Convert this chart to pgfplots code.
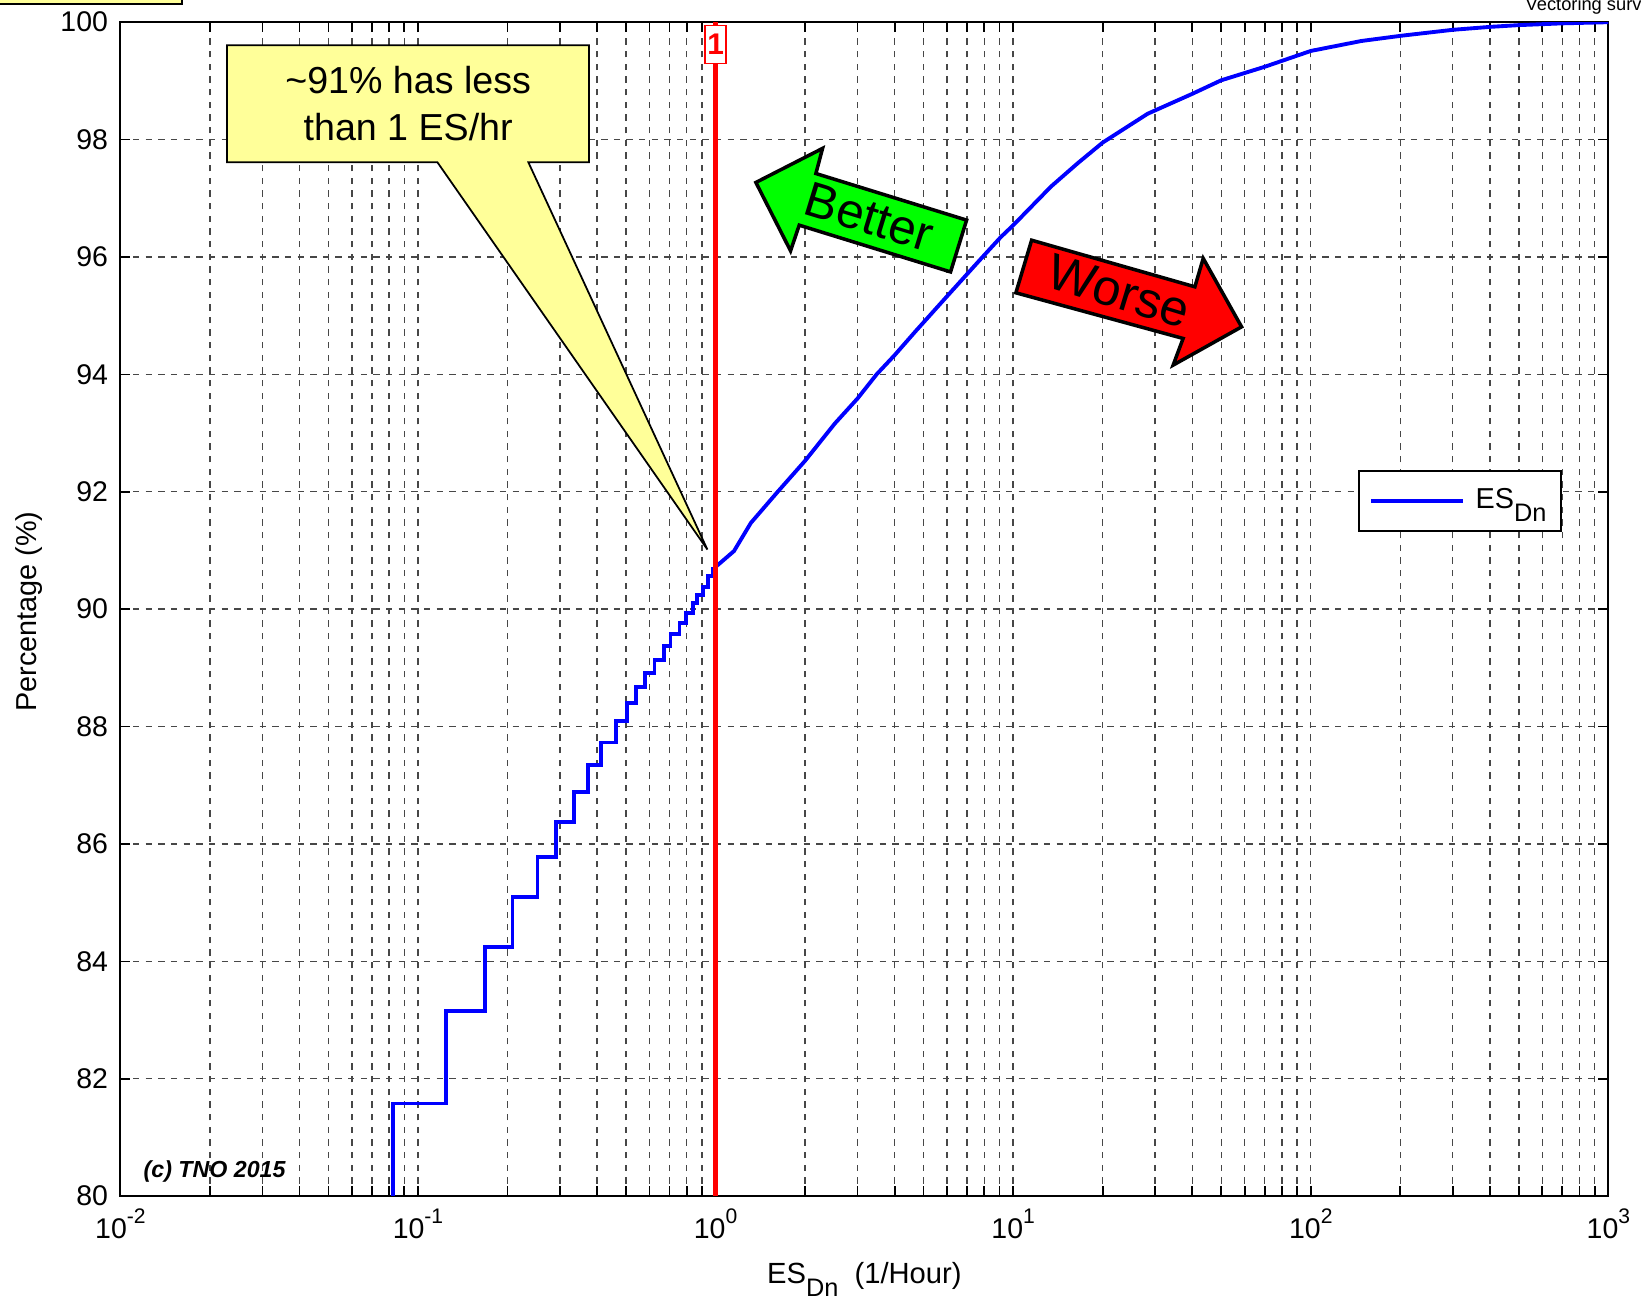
\documentclass[border=0pt]{standalone}
\usepackage{pgfplots}
\pgfplotsset{compat=1.18}
\usepackage{fontspec}
\setmainfont{Liberation Sans}
\definecolor{calloutyellow}{RGB}{255,255,153}
\newcommand\sub[1]{\raisebox{-0.45em}{\fontsize{7.2}{8}\selectfont #1}}
\newcommand\tp[1]{10\raisebox{0.55em}{\fontsize{6}{7}\selectfont #1}}
\begin{document}
\begin{tikzpicture}
\begin{axis}[
  scale only axis,
  width=148.8mm, height=117.4mm,
  xmode=log,
  xmin=0.01, xmax=1000,
  ymin=80, ymax=100,
  ytick={80,82,...,100},
  xtick={0.01,0.1,1,10,100,1000},
  xticklabels={\tp{-2},\tp{-1},\tp{0},\tp{1},\tp{2},\tp{3}},
  grid=both,
  major grid style={dash pattern=on 1.8pt off 1.8pt, black!72, line width=0.4pt},
  minor grid style={dash pattern=on 1.8pt off 1.8pt, black!72, line width=0.4pt},
  tick align=inside,
  major tick length=1mm, minor tick length=1mm,
  axis line style={line width=0.6pt},
  tick style={black, line width=0.5pt},
  ticklabel style={font=\fontsize{8.1}{10}\selectfont},
  /pgf/number format/assume math mode=true,
  xlabel={ES\sub{Dn}\ \ (1/Hour)},
  ylabel={Percentage (\%)},
  every axis x label/.style={at={(axis description cs:0.5,-0.0741)}, anchor=base, font=\fontsize{8.3}{10}\selectfont},
  every axis y label/.style={at={(axis description cs:-0.0612,0.498)}, anchor=center, rotate=90, font=\fontsize{8.2}{10}\selectfont},
  legend style={at={(0.969,0.6185)}, anchor=north east, draw=black, line width=0.5pt,
    font=\fontsize{8.2}{10}\selectfont, inner xsep=1.0mm, inner ysep=1.25mm,
    column sep=0.5mm, nodes={inner sep=0.5mm}},
  legend image code/.code={\draw[#1, line width=1.3pt] (0mm,0mm) -- (9.2mm,0mm);},
  legend cell align=left,
]
\addplot[blue, line width=1.1pt, const plot] coordinates {
(0.0824,80) (0.0824,81.58) (0.1245,83.15) (0.1677,84.24) (0.2078,85.10)
(0.2522,85.78) (0.2907,86.38) (0.3334,86.88) (0.3715,87.35) (0.412,87.73)
(0.463,88.09) (0.5028,88.40) (0.5407,88.68) (0.5797,88.91) (0.6232,89.14)
(0.670,89.37) (0.7056,89.57) (0.7563,89.77) (0.7965,89.94) (0.8389,90.10)
(0.8675,90.24) (0.906,90.38) (0.942,90.56) (0.98,90.68) (1.0,90.72)
};
\addlegendentry{ES\sub{Dn}}
\addplot[blue, line width=1.1pt, forget plot] coordinates {
(1.0,90.72) (1.153,90.99) (1.314,91.47) (1.617,92.0) (2.0,92.53) (2.513,93.16)
(3.0,93.59) (3.476,94.0) (4.0,94.33) (4.69,94.73) (5.92,95.30) (7.73,95.95)
(9.09,96.34) (10,96.54) (13.4,97.20) (16.5,97.60) (20,97.95) (28.3,98.44)
(40,98.78) (50,99.01) (70,99.24) (100,99.51) (148,99.68) (202,99.77)
(300,99.87) (400,99.92) (500,99.95) (700,99.98) (1000,100)
};
\addplot[red, line width=1.3pt, forget plot] coordinates {(1,80) (1,100)};
% callout
\draw[black, line width=0.5pt, fill=calloutyellow]
  (rel axis cs:0.0717,0.9804) -- (rel axis cs:0.3150,0.9804) -- (rel axis cs:0.3150,0.8806)
  -- (rel axis cs:0.2742,0.8806) -- (rel axis cs:0.3945,0.5508) -- (rel axis cs:0.2131,0.8806)
  -- (rel axis cs:0.0717,0.8806) -- cycle;
\node[align=center, font=\fontsize{10.7}{13.5}\selectfont] at (rel axis cs:0.1934,0.9305)
  {\textasciitilde 91\% has less\\than 1 ES/hr};
% better arrow
\draw[black, line width=1pt, fill=green, line join=miter]
  (rel axis cs:0.4271,0.8635) -- (rel axis cs:0.4719,0.8925) -- (rel axis cs:0.4674,0.8711)
  -- (rel axis cs:0.5687,0.8314) -- (rel axis cs:0.5579,0.7873) -- (rel axis cs:0.4562,0.8271)
  -- (rel axis cs:0.4504,0.8052) -- cycle;
\node[rotate=-17, font=\fontsize{14}{16}\selectfont] at (rel axis cs:0.5035,0.8343) {Better};
% worse arrow
\draw[black, line width=1pt, fill=red, line join=miter]
  (rel axis cs:0.6124,0.8143) -- (rel axis cs:0.7221,0.7746) -- (rel axis cs:0.7277,0.7988)
  -- (rel axis cs:0.7535,0.7405) -- (rel axis cs:0.7075,0.7079) -- (rel axis cs:0.7142,0.7306)
  -- (rel axis cs:0.6018,0.7695) -- cycle;
\node[rotate=-17, font=\fontsize{14.4}{17}\selectfont] at (rel axis cs:0.6712,0.7709) {Worse};
% marker label
\node[draw=red, line width=0.4pt, fill=white, text=red, font=\bfseries\fontsize{8.5}{10}\selectfont,
  minimum width=2.1mm, minimum height=3.8mm, inner sep=0pt] at (rel axis cs:0.4,0.981) {1};
\node[anchor=base west, inner sep=0pt, font=\bfseries\itshape\fontsize{6.6}{8}\selectfont] at (rel axis cs:0.0152,0.0159) {(c) TNO 2015};
\end{axis}
% cropped elements at the top of the figure
\begin{scope}[shift={(current axis.south west)}]
\draw[black, line width=0.7pt, fill=calloutyellow] (-17.04mm,119.22mm) rectangle (6.16mm,123.62mm);
\node[anchor=base west, font=\fontsize{5.2}{6}\selectfont, inner sep=0pt] at (140.46mm,118.52mm) {Vectoring survey};
\pgfresetboundingbox
\path[use as bounding box] (-12.04mm,-10.58mm) rectangle (152.06mm,119.62mm);
\end{scope}
\end{tikzpicture}
\end{document}
